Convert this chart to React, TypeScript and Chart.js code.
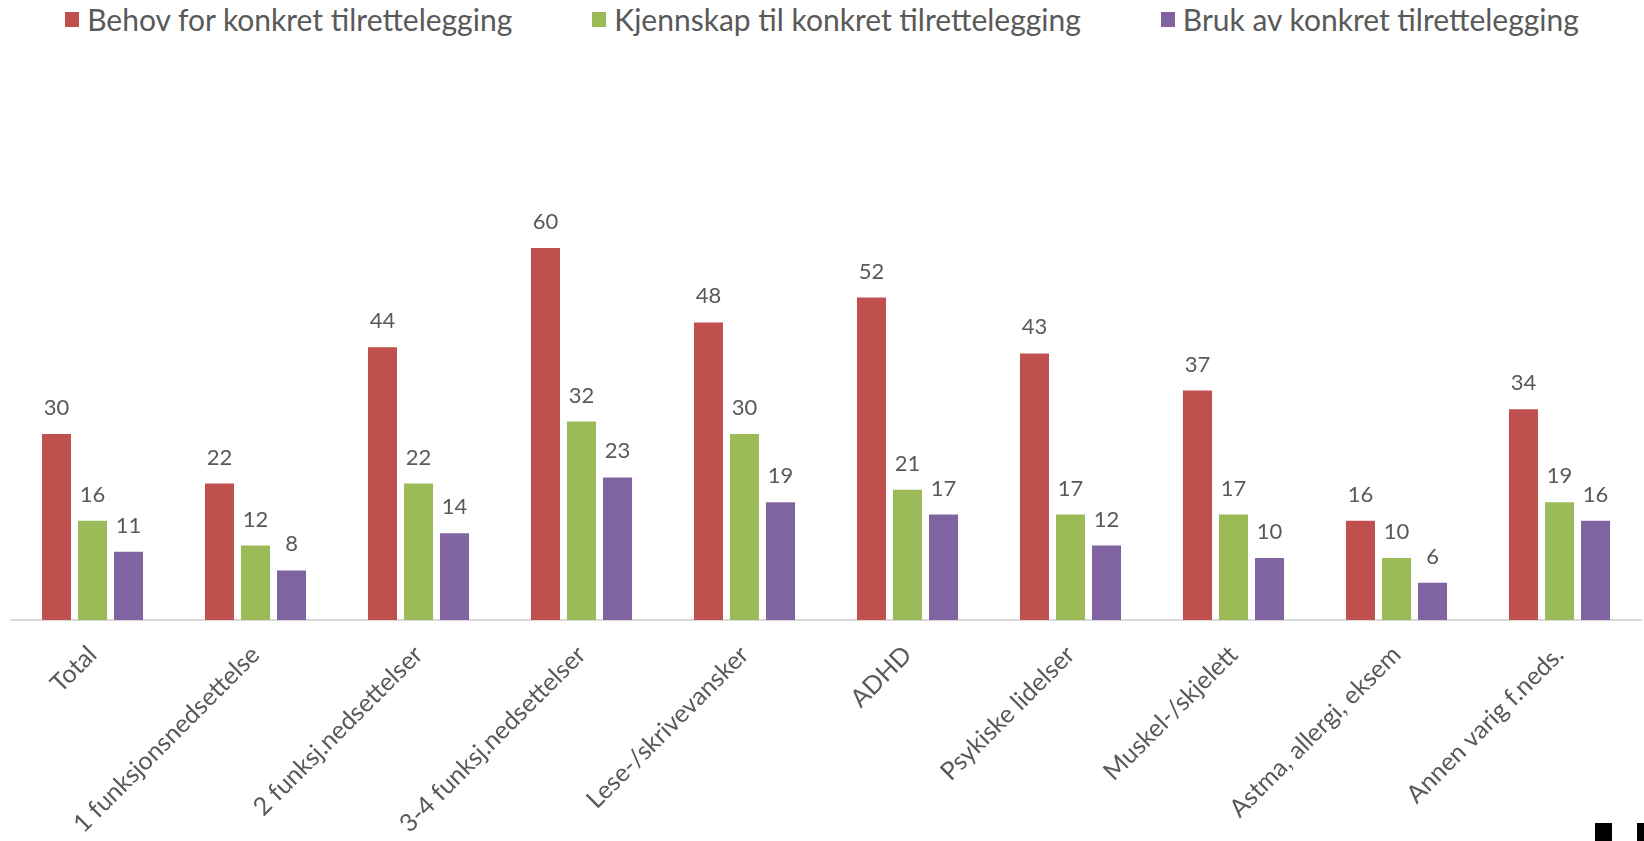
import React, { useEffect, useRef } from "react";
import { Chart, registerables } from "chart.js";

Chart.register(...registerables);

const categories = [
  "Total",
  "1 funksjonsnedsettelse",
  "2 funksj.nedsettelser",
  "3-4 funksj.nedsettelser",
  "Lese-/skrivevansker",
  "ADHD",
  "Psykiske lidelser",
  "Muskel-/skjelett",
  "Astma, allergi, eksem",
  "Annen varig f.neds.",
];

const seriesNames = [
  "Behov for konkret tilrettelegging",
  "Kjennskap til konkret tilrettelegging",
  "Bruk av konkret tilrettelegging",
];

const behov = [30, 22, 44, 60, 48, 52, 43, 37, 16, 34];
const kjennskap = [16, 12, 22, 32, 30, 21, 17, 17, 10, 19];
const bruk = [11, 8, 14, 23, 19, 17, 12, 10, 6, 16];

const colors = ["#C0504D", "#9BBB59", "#8064A2"];

const FONT = "Lato, 'Open Sans', sans-serif";
const TEXT = "#595959";

const valueLabels = {
  id: "valueLabels",
  afterDatasetsDraw(chart: any) {
    const ctx = chart.ctx;
    ctx.save();
    ctx.font = `22px ${FONT}`;
    ctx.fillStyle = TEXT;
    ctx.textAlign = "center";
    ctx.textBaseline = "bottom";
    chart.data.datasets.forEach((ds: any, i: number) => {
      const meta = chart.getDatasetMeta(i);
      meta.data.forEach((bar: any, j: number) => {
        ctx.fillText(String(ds.data[j]), bar.x, bar.y - 15);
      });
    });
    ctx.restore();
  },
};

export default function App() {
  const ref = useRef<HTMLCanvasElement>(null);

  useEffect(() => {
    const datasets = [behov, kjennskap, bruk].map((d, i) => ({
      label: seriesNames[i],
      data: d,
      backgroundColor: colors[i],
      borderWidth: 0,
      categoryPercentage: 0.663,
      barPercentage: 0.806,
    }));
    const chart = new Chart(ref.current!, {
      type: "bar",
      data: { labels: categories, datasets },
      options: {
        animation: false,
        responsive: true,
        maintainAspectRatio: false,
        layout: { padding: { top: 186, left: 11, right: 3, bottom: 0 } },
        plugins: {
          legend: { display: false },
          tooltip: { enabled: false },
        },
        scales: {
          y: { display: false, min: 0, max: 70 },
          x: {
            grid: { display: false },
            border: { display: true, color: "#D9D9D9", width: 2 },
            ticks: {
              color: TEXT,
              font: { family: FONT, size: 25 },
              minRotation: 45,
              maxRotation: 45,
              autoSkip: false,
              padding: 12,
            },
            afterFit(scale: any) {
              scale.height = 221;
            },
          },
        },
      },
      plugins: [valueLabels],
    });
    return () => chart.destroy();
  }, []);

  return (
    <div style={{ position: "fixed", left: 0, top: 0, width: 1644, height: 841, background: "#fff", overflow: "hidden" }}>
      <div
        style={{
          position: "absolute",
          top: 0,
          left: 0,
          width: 1644,
          height: 38,
          display: "flex",
          justifyContent: "center",
          alignItems: "center",
          gap: 80,
          fontFamily: FONT,
          fontSize: 30,
          color: TEXT,
        }}
      >
        {seriesNames.map((n, i) => (
          <div key={n} style={{ display: "flex", alignItems: "center", whiteSpace: "nowrap" }}>
            <span style={{ display: "inline-block", width: 14, height: 15, background: colors[i], marginRight: 8 }} />
            <span>{n}</span>
          </div>
        ))}
      </div>
      <div style={{ position: "absolute", left: 0, top: 0, width: 1644, height: 841 }}>
        <canvas ref={ref} />
      </div>
      <div style={{ position: "absolute", left: 1595, top: 823, width: 17, height: 18, background: "#000" }} />
      <div style={{ position: "absolute", left: 1637, top: 823, width: 7, height: 18, background: "#000" }} />
    </div>
  );
}
